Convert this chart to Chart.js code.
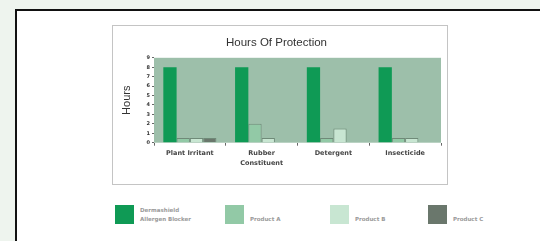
<!DOCTYPE html>
<html>
<head>
<meta charset="utf-8">
<script src="https://cdn.jsdelivr.net/npm/chart.js@4/dist/chart.umd.min.js"></script>
<style>
  html, body { margin:0; padding:0; width:540px; height:241px; overflow:hidden; background:#eef4ee; font-family:"Liberation Sans", Arial, sans-serif; }
  #panel { position:absolute; left:15px; top:9px; width:560px; height:260px; background:#fff; border:2px solid #111; }
  #box { position:absolute; left:112px; top:25px; width:334px; height:158px; border:1px solid #c4c4c4; background:#fff; }
  #wrap { position:absolute; left:112px; top:25px; width:336px; height:160px; }
  .leg { position:absolute; top:205px; display:flex; align-items:flex-end; }
  .sw { width:19px; height:19px; flex:none; }
  .lt { margin-left:6px; font-family:"DejaVu Sans", sans-serif; font-size:5.5px; line-height:9px; color:#9a9a9a; font-weight:bold; white-space:nowrap; }
</style>
</head>
<body>
<div id="panel"></div>
<div id="box"></div>
<div id="wrap"><canvas id="c" width="336" height="160"></canvas></div>
<div id="legend"></div>
<script>
const categories = ["Plant Irritant", ["Rubber", "Constituent"], "Detergent", "Insecticide"];
const seriesNames = [["Dermashield", "Allergen Blocker"], "Product A", "Product B", "Product C"];
const seriesColors = ["#0f9a55", "#92c9a6", "#c8e6d2", "#6a776c"];
const dermashield = [8, 8, 8, 8];
const productA = [0.5, 2, 0.5, 0.5];
const productB = [0.5, 0.5, 1.5, 0.5];
const productC = [0.5, 0, 0, 0];
const yTicks = [0, 1, 2, 3, 4, 5, 6, 7, 8, 9];
const seriesValues = [dermashield, productA, productB, productC];

const plotBg = {
  id: 'plotBg',
  beforeDraw(chart) {
    const {ctx, chartArea:a} = chart;
    ctx.save();
    ctx.fillStyle = '#9dbfaa';
    ctx.fillRect(a.left, a.top, a.right - a.left, a.bottom - a.top);
    ctx.restore();
  }
};

new Chart(document.getElementById('c'), {
  type: 'bar',
  data: {
    labels: categories,
    datasets: seriesValues.map((v, i) => ({
      label: Array.isArray(seriesNames[i]) ? seriesNames[i].join(' ') : seriesNames[i],
      data: v,
      backgroundColor: seriesColors[i],
      borderColor: i === 0 ? seriesColors[0] : '#6f8a78',
      borderWidth: i === 0 ? 0 : 1,
      categoryPercentage: 0.74,
      barPercentage: 1
    }))
  },
  options: {
    responsive: false,
    animation: false,
    layout: { padding: { left: 0, right: 7, top: 0, bottom: 0 } },
    plugins: {
      legend: { display: false },
      tooltip: { enabled: false },
      title: {
        display: true,
        text: 'Hours Of Protection',
        color: '#333',
        font: { family: 'Liberation Sans', size: 11.5, weight: 'normal' },
        padding: { top: 11, bottom: 8 }
      }
    },
    scales: {
      x: {
        grid: { display: true, drawOnChartArea: false, offset: true, tickLength: 3, color: '#666' },
        border: { display: false },
        ticks: { color: '#444', font: { family: 'DejaVu Sans', size: 6.5, weight: 'bold', lineHeight: 1.45 }, padding: 3, maxRotation: 0, autoSkip: false },
        afterFit(s) { s.height = 42.3; }
      },
      y: {
        min: 0, max: 9,
        afterBuildTicks(s) { s.ticks = yTicks.map(v => ({ value: v })); },
        grid: { display: true, drawOnChartArea: false, tickLength: 2, color: '#666' },
        border: { display: false },
        ticks: { color: '#333', font: { family: 'DejaVu Sans', size: 5, weight: 'bold' }, padding: 2, autoSkip: false },
        title: { display: true, text: 'Hours', color: '#333', font: { family: 'Liberation Sans', size: 11 }, padding: { top: 8, bottom: 0 } },
        afterFit(s) { s.width = 42; }
      }
    }
  },
  plugins: [plotBg]
});

const legendLefts = [115, 225, 330, 428];
const legend = document.getElementById('legend');
seriesNames.forEach((n, i) => {
  const item = document.createElement('div');
  item.className = 'leg';
  item.style.left = legendLefts[i] + 'px';
  const sw = document.createElement('div');
  sw.className = 'sw';
  sw.style.background = seriesColors[i];
  const t = document.createElement('div');
  t.className = 'lt';
  t.innerHTML = (Array.isArray(n) ? n : [n]).join('<br>');
  item.appendChild(sw); item.appendChild(t);
  legend.appendChild(item);
});
</script>
</body>
</html>
